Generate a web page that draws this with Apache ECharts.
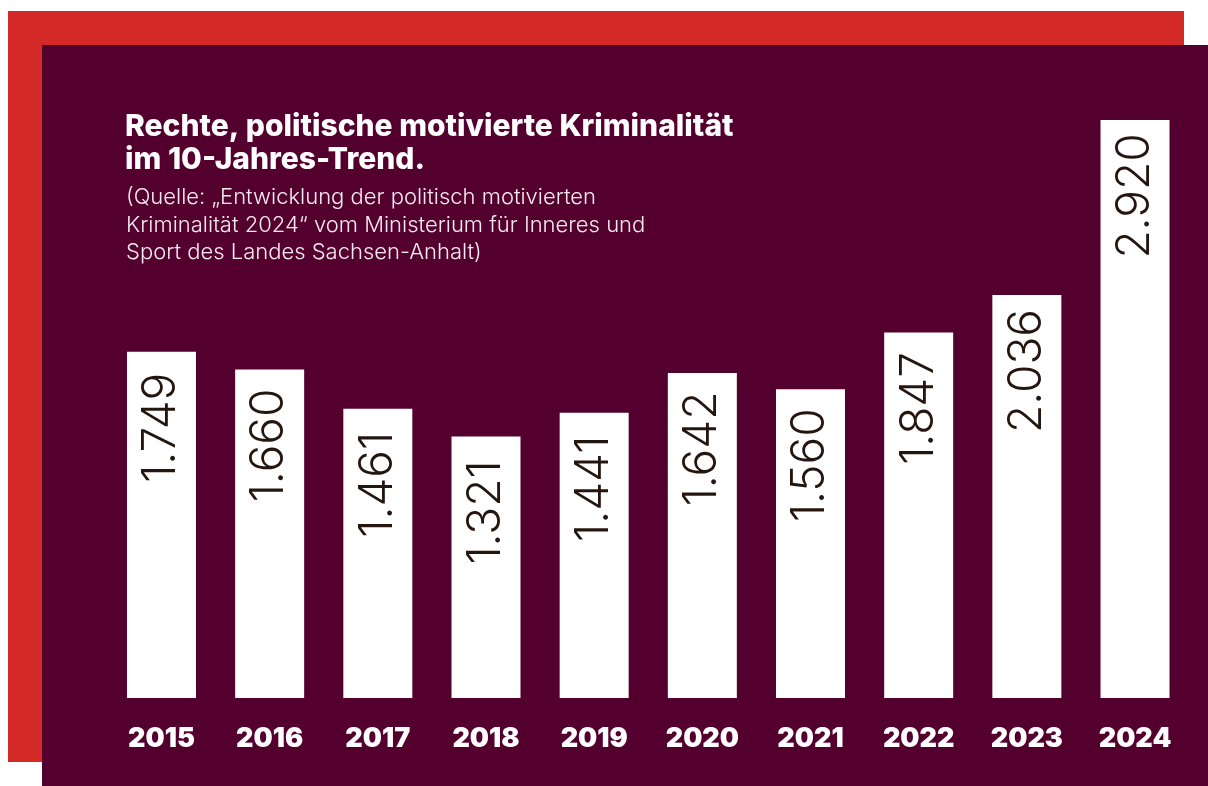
<!DOCTYPE html>
<html>
<head>
<meta charset="utf-8">
<script src="https://cdn.jsdelivr.net/npm/echarts@6/dist/echarts.min.js"></script>
<style>
html,body{margin:0;padding:0;background:#ffffff;}
#chart{width:1208px;height:786px;}
</style>
</head>
<body>
<div id="chart"></div>
<script>
const years = ['2015','2016','2017','2018','2019','2020','2021','2022','2023','2024'];
const cases = [1749, 1660, 1461, 1321, 1441, 1642, 1560, 1847, 2036, 2920];
const titleText = 'Rechte, politische motivierte Kriminalität\nim 10-Jahres-Trend.';
const sourceText = '(Quelle: \u201EEntwicklung der politisch motivierten\nKriminalität 2024\u201C vom Ministerium für Inneres und\nSport des Landes Sachsen-Anhalt)';

function fmt(v){ return String(v).replace(/\B(?=(\d{3})+(?!\d))/g, '.'); }

const chart = echarts.init(document.getElementById('chart'));
chart.setOption({
  backgroundColor: '#ffffff',
  animation: false,
  graphic: [
    { type: 'rect', z: -20, shape: { x: 8, y: 11, width: 1176, height: 751 }, style: { fill: '#d32a28' } },
    { type: 'rect', z: -19, shape: { x: 42, y: 45, width: 1166, height: 741 }, style: { fill: '#54002e' } }
  ],
  title: [
    {
      text: titleText, left: 125, top: 110, padding: 0,
      textStyle: { color: '#ffffff', fontFamily: 'Inter', fontWeight: 800, fontSize: 30, lineHeight: 33 }
    },
    {
      text: sourceText, left: 126, top: 184, padding: 0,
      textStyle: { color: '#f6e9ef', fontFamily: 'Inter', fontWeight: 300, fontSize: 22, lineHeight: 27.5 }
    }
  ],
  grid: { left: 107.4, right: 18.9, top: 120, bottom: 88, containLabel: false },
  xAxis: {
    type: 'category', data: years,
    axisLine: { show: false }, axisTick: { show: false },
    axisLabel: { color: '#ffffff', fontFamily: 'Inter', fontWeight: 900, fontSize: 27, lineHeight: 28, margin: 27 }
  },
  yAxis: {
    type: 'value', min: 0, max: 2920, show: false, splitLine: { show: false }
  },
  series: [{
    type: 'bar', data: cases, barWidth: 69,
    itemStyle: { color: '#ffffff' },
    label: {
      show: true, position: ['50%', 76], rotate: 90, align: 'center', verticalAlign: 'middle',
      color: '#24150f', fontFamily: 'Inter', fontWeight: 300, fontSize: 46,
      formatter: p => fmt(p.value)
    }
  }]
});
</script>
</body>
</html>
